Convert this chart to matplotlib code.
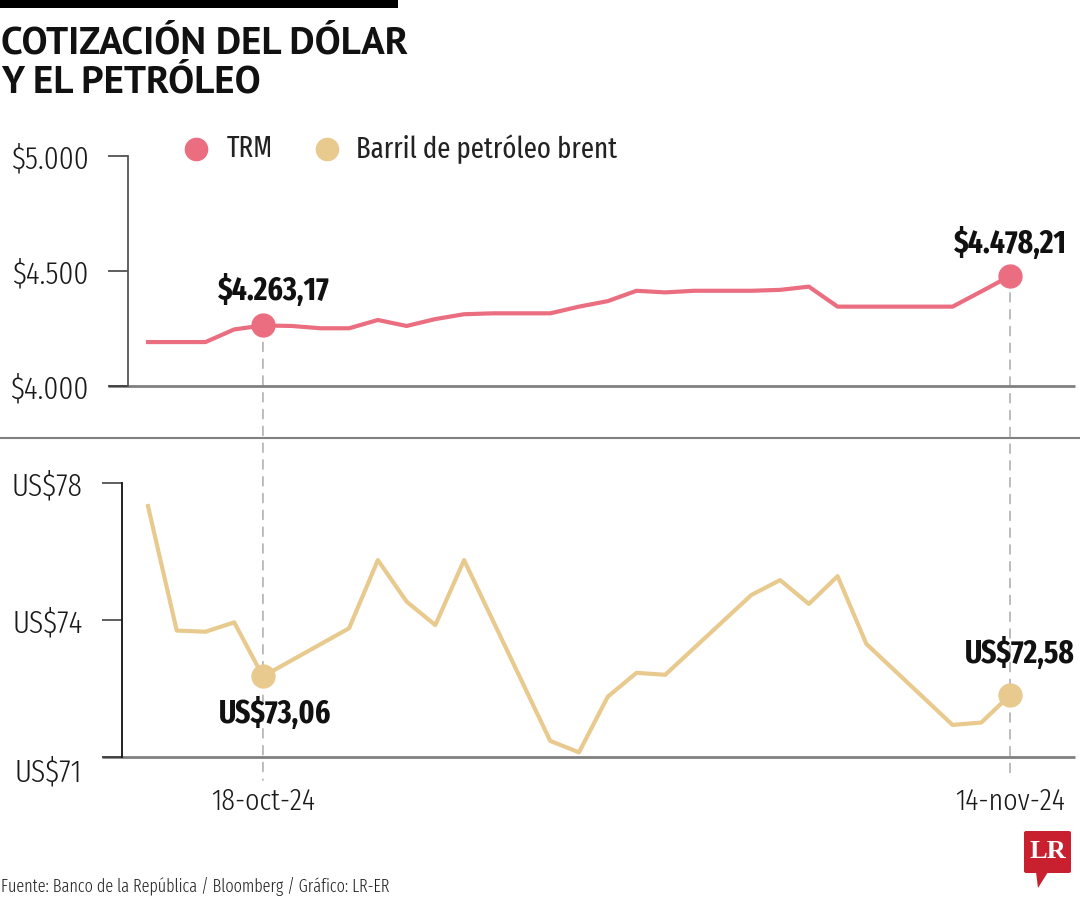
import matplotlib
matplotlib.use('Agg')
import matplotlib.pyplot as plt
from matplotlib.patches import Rectangle, Polygon, ConnectionPatch, FancyBboxPatch
from matplotlib.lines import Line2D

plt.rcParams['text.parse_math'] = False

# ---------------- data ----------------
trm_days = list(range(31))  # day index from 14-oct-24
trm_values = [4191, 4191, 4191, 4246, 4263.17, 4261, 4251, 4251, 4287, 4261,
              4291, 4312, 4316, 4316, 4316, 4345, 4369, 4414, 4407, 4414,
              4414, 4414, 4418, 4432, 4345, 4345, 4345, 4345, 4345, 4411,
              4478.21]
brent_days = [0, 1, 2, 3, 4, 7, 8, 9, 10, 11, 14, 15, 16, 17, 18,
              21, 22, 23, 24, 25, 28, 29, 30]
brent_values = [77.41, 74.23, 74.20, 74.44, 73.06, 74.29, 76.03, 74.97, 74.37, 76.03,
                71.41, 71.12, 72.54, 73.15, 73.10, 75.14, 75.52, 74.91, 75.62, 73.89,
                71.82, 71.88, 72.58]
trm_ticks = [4000, 4500, 5000]
trm_tick_labels = ['$4.000', '$4.500', '$5.000']
brent_ticks = [71, 74.5, 78]
brent_tick_labels = ['US$71', 'US$74', 'US$78']
date_ticks = [4, 30]
date_labels = ['18-oct-24', '14-nov-24']
highlight_days = [4, 30]
trm_highlight_labels = ['$4.263,17', '$4.478,21']
brent_highlight_labels = ['US$73,06', 'US$72,58']
series_names = ['TRM', 'Barril de petróleo brent']

# ---------------- style ----------------
PINK = '#EA6E80'
BEIGE = '#E9CA8E'
GRAY = '#808080'
COND = ['Fira Sans Extra Condensed', 'Roboto Condensed', 'Liberation Sans Narrow', 'DejaVu Sans']
TITLE = ['PT Sans', 'Fira Sans', 'Open Sans', 'DejaVu Sans']

W, H = 1080, 900
fig = plt.figure(figsize=(10.8, 9), dpi=100)
fig.patch.set_facecolor('white')


def fx(p):
    return p / W


def fy(p):
    return 1 - p / H


PPI = (1010 - 148) / 30.0

ax1 = fig.add_axes([fx(128), fy(386), fx(1075 - 128), (386 - 156) / H])
ax2 = fig.add_axes([fx(122), fy(757), fx(1075 - 122), (757 - 483) / H])
ax1.set_xlim((128 - 148) / PPI, 30 + (1075 - 1010) / PPI)
ax2.set_xlim((122 - 148) / PPI, 30 + (1075 - 1010) / PPI)
ax1.set_ylim(4000, 5000)
ax2.set_ylim(71, 78)

for ax, left_px, spcol in ((ax1, 128, '#555555'), (ax2, 122, '#111111')):
    for s in ('top', 'right', 'bottom'):
        ax.spines[s].set_visible(False)
    ax.spines['left'].set_color(spcol)
    ax.spines['left'].set_linewidth(1.3)
    ax.patch.set_alpha(0)
    x0 = -20 / (1075 - left_px)
    ax.plot([x0, 1], [0, 0], transform=ax.transAxes, color=GRAY, lw=2.0,
            clip_on=False, zorder=1, solid_capstyle='butt')
    ax.tick_params(axis='y', length=14.4, width=1.1, color='#333333', pad=14,
                   labelsize=23, labelcolor='#1a1a1a')

ax1.set_yticks(trm_ticks)
ax1.set_yticklabels(trm_tick_labels, family=COND, fontweight=350)
ax1.set_xticks([])
ax2.set_yticks(brent_ticks)
ax2.set_yticklabels(brent_tick_labels, family=COND, fontweight=350)
ax2.get_yticklabels()[0].set_verticalalignment('top')
ax2.set_xticks(date_ticks)
ax2.set_xticklabels(date_labels, family=COND, fontsize=22, color='#1a1a1a',
                    fontweight=350)
ax2.tick_params(axis='x', length=0, pad=22)

# lines
ax1.plot(trm_days, trm_values, color=PINK, lw=3.0, zorder=3)
ax2.plot(brent_days, brent_values, color=BEIGE, lw=3.0, zorder=3)

# dashed guide lines
for d in highlight_days:
    con = ConnectionPatch(xyA=(d, trm_values[trm_days.index(d)]), coordsA=ax1.transData,
                          xyB=(d, 70.41), coordsB=ax2.transData,
                          color='#aaaaaa', lw=1.1, linestyle=(0, (6, 5)), zorder=0)
    fig.add_artist(con)

# markers and labels
trm_offsets = [(8, 25), (0, 23.5)]
brent_offsets = [(8.6, -26.6), (7, 30)]
for d, lab, off in zip(highlight_days, trm_highlight_labels, trm_offsets):
    v = trm_values[trm_days.index(d)]
    ax1.plot([d], [v], 'o', ms=16.5, color=PINK, zorder=5, clip_on=False)
    ax1.annotate(lab, xy=(d, v), xytext=off, textcoords='offset points',
                 ha='center', va='center', fontsize=23, fontweight='bold',
                 family=COND, color='#111111', annotation_clip=False)
for d, lab, off in zip(highlight_days, brent_highlight_labels, brent_offsets):
    v = brent_values[brent_days.index(d)]
    ax2.plot([d], [v], 'o', ms=16.5, color=BEIGE, zorder=5, clip_on=False)
    ax2.annotate(lab, xy=(d, v), xytext=off, textcoords='offset points',
                 ha='center', va='center', fontsize=23, fontweight='bold',
                 family=COND, color='#111111', annotation_clip=False)

# legend
for (mx, tx), name, col in zip(((196, 227), (327, 356)), series_names, (PINK, BEIGE)):
    fig.add_artist(Line2D([fx(mx)], [fy(149)], marker='o', ms=16, color=col,
                          transform=fig.transFigure))
    fig.text(fx(tx), fy(149), name, ha='left', va='center', fontsize=21,
             family=COND, fontweight='normal', color='#222222')

# separator
fig.add_artist(Line2D([0, 1], [fy(438), fy(438)], color=GRAY, lw=1.5,
                      transform=fig.transFigure))

# title bar + title
fig.add_artist(Rectangle((0, fy(8)), fx(398), 8 / H, transform=fig.transFigure,
                         color='black', lw=0))
fig.text(fx(1), fy(26), 'COTIZACIÓN DEL DÓLAR\nY EL PETRÓLEO', ha='left', va='top',
         fontsize=28, fontweight='bold', family=TITLE, color='#111111',
         linespacing=1.17)

# source
fig.text(fx(1), fy(886), 'Fuente: Banco de la República / Bloomberg / Gráfico: LR-ER',
         ha='left', va='center', fontsize=12.7, family=COND, fontweight=350,
         color='#222222')

# LR logo
fig.add_artist(FancyBboxPatch((fx(1024), fy(873)), fx(47), 42 / H,
                              boxstyle='round,pad=0,rounding_size=0.002',
                              transform=fig.transFigure, color='#C8202E', lw=0))
fig.add_artist(Polygon([(fx(1036), fy(872)), (fx(1048), fy(872)), (fx(1038), fy(888))],
                       closed=True, transform=fig.transFigure, color='#C8202E', lw=0))
fig.text(fx(1047.5), fy(852), 'LR', ha='center', va='center', fontsize=19,
         fontweight='bold', family=['Liberation Serif', 'DejaVu Serif'], color='white')

fig.savefig('out.png', dpi=100)
